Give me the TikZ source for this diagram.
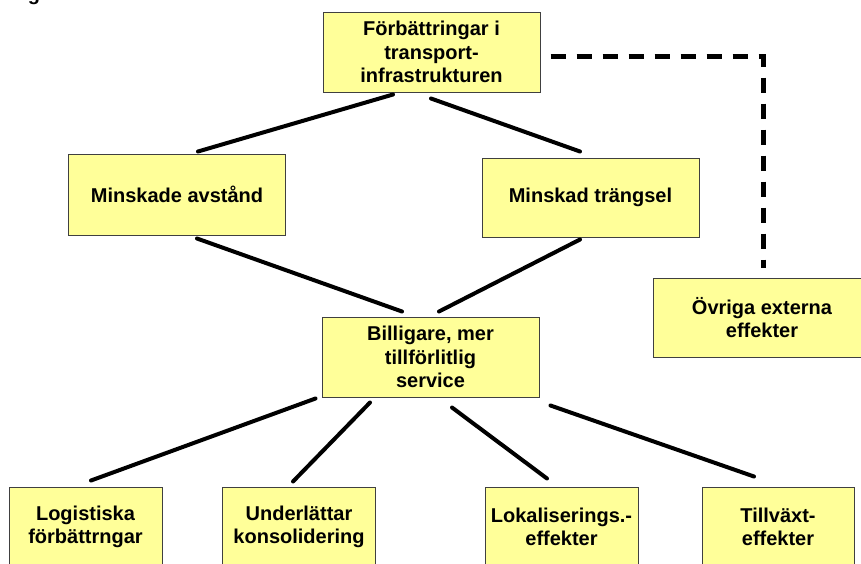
\documentclass[tikz,border=0pt]{standalone}
\usepackage{fontspec}
\setmainfont{Liberation Sans}
\usetikzlibrary{calc}
\definecolor{boxfill}{HTML}{FFFF99}
\begin{document}
\begin{tikzpicture}[x=1pt,y=-1pt,
  card/.style={draw=black!75, line width=1pt, fill=boxfill, inner sep=0pt,
    align=center, minimum height=80pt,
    font=\fontsize{20}{23.5}\selectfont\bfseries},
  widecard/.style={card, minimum width=217pt},
  smallcard/.style={card, minimum width=153pt},
  link/.style={line width=4pt, line cap=round},
  extlink/.style={line width=5pt, dash pattern=on 15pt off 11pt}]

\useasboundingbox (0,0) rectangle (861,563);

% descender of a line of text above the frame
\node[anchor=base, inner sep=0pt, font=\fontsize{20}{23.5}\selectfont\bfseries] (frag) at (34,0) {g};

% boxes
\node[widecard] (top)   at (431.5,52)  {Förbättringar i\\transport-\\infrastrukturen};
\node[widecard, minimum height=81pt] (mind) at (177,194.5) {Minskade avstånd};
\node[widecard, minimum height=79pt] (trang) at (590.5,197.5) {Minskad trängsel};
\node[widecard] (bill)  at (430.5,357) {Billigare, mer\\tillförlitlig\\service};
\node[widecard, minimum height=79pt] (ovr) at (762,317.5) {Övriga externa\\effekter};

\node[smallcard] (log)  at (85.5,527)  {Logistiska\\förbättrngar};
\node[smallcard] (und)  at (299,527)   {Underlättar\\konsolidering};
\node[smallcard] (lok)  at (561.5,527) {Lokaliserings.-\\effekter};
\node[smallcard, minimum width=152pt] (till) at (778,527) {Tillväxt-\\effekter};

% connectors
\draw[link] ($(top.south)+(-38.5,2)$)  -- ($(mind.north)+(21,-2)$);
\draw[link] ($(top.south)+(-0.5,6)$)   -- ($(trang.north)+(-10.5,-6)$);
\draw[link] ($(mind.south)+(20,3)$)    -- ($(bill.north)+(-28.5,-5)$);
\draw[link] ($(trang.south)+(-10.5,2)$) -- ($(bill.north)+(8.5,-5)$);

\draw[link] ($(bill.south west)+(-6,1)$) -- ($(log.north)+(5.5,-6)$);
\draw[link] ($(bill.south)+(-60.5,5)$)   -- ($(und.north)+(-6,-5)$);
\draw[link] ($(bill.south)+(21.5,10)$)   -- ($(lok.north)+(-14.5,-8)$);
\draw[link] ($(bill.south east)+(11,8)$) -- ($(till.north)+(-24,-10)$);

% dashed link to the external effects
\draw[extlink] ($(top.east)+(10,4)$) -| ($(ovr.north)+(1,-10)$);
\end{tikzpicture}
\end{document}
